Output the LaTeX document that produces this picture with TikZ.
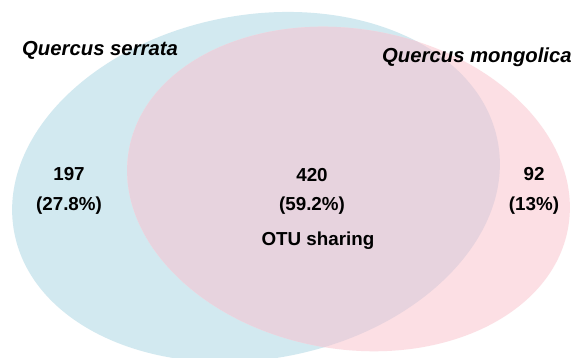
\documentclass[tikz,border=0pt]{standalone}
\usepackage{fontspec}
\setmainfont{Liberation Sans}
\definecolor{blueset}{HTML}{D2E9F0}
\definecolor{pinkset}{HTML}{FCDFE4}
\definecolor{bothset}{HTML}{E7D3DE}
\tikzset{
  setname/.style={font=\fontsize{20.3}{23}\selectfont\bfseries\itshape, inner sep=0pt},
  countlabel/.style={font=\fontsize{18.8}{21}\selectfont\bfseries, inner sep=0pt, anchor=base},
}
\begin{document}
\begin{tikzpicture}[x=1pt,y=1pt]
\useasboundingbox (0,0) rectangle (576,358);
\clip (0,0) rectangle (576,358);
\fill[white] (0,0) rectangle (576,358);
% sets
\fill[blueset] (256,171) ellipse[x radius=246, y radius=172, rotate=10.6];
\fill[pinkset] (348.5,169) ellipse[x radius=223, y radius=160, rotate=-10];
\begin{scope}
  \clip (256,171) ellipse[x radius=246, y radius=172, rotate=10.6];
  \fill[bothset] (348.5,169) ellipse[x radius=223, y radius=160, rotate=-10];
\end{scope}
% labels
\node[setname, anchor=base west] (serrata) at (22,302) {Quercus serrata};
\node[setname, anchor=base west] (mongolica) at (382,295) {Quercus mongolica};
\node[countlabel] (n197) at (69,177) {197};
\node[countlabel] (p197) at (69,147) {(27.8\%)};
\node[countlabel] (n420) at (312,176) {420};
\node[countlabel] (p420) at (312,147) {(59.2\%)};
\node[countlabel] (otu) at (318,112) {OTU sharing};
\node[countlabel] (n92) at (534,177) {92};
\node[countlabel] (p92) at (534,147) {(13\%)};
\end{tikzpicture}
\end{document}
